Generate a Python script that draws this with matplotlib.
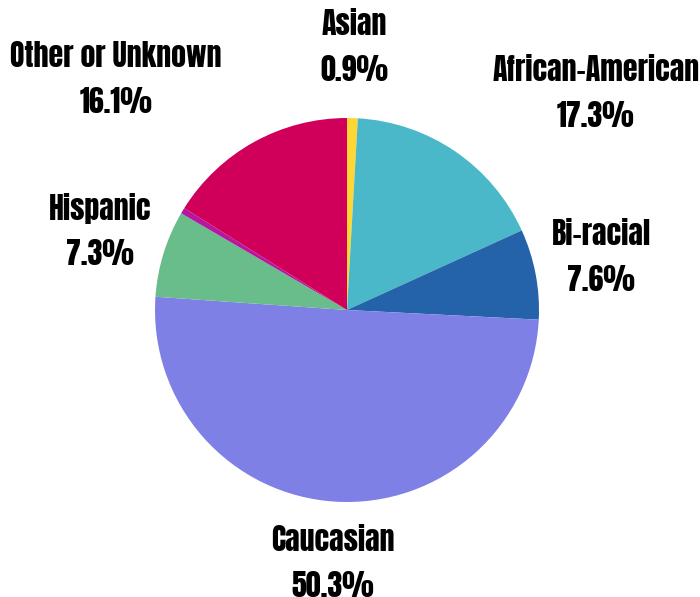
import matplotlib
matplotlib.use("Agg")
import matplotlib.pyplot as plt

categories = ["Asian", "African-American", "Bi-racial", "Caucasian", "Hispanic", "Native or Other", "Other or Unknown"]
values = [0.9, 17.3, 7.6, 50.3, 7.3, 0.5, 16.1]
show_label = [True, True, True, True, True, False, True]
colors = ["#FDD835", "#4BB8C9", "#2462A9", "#7F80E6", "#69BD8A", "#B5179E", "#D0005A"]

# label block centres (data units, radius = 1)
label_pos = [(0.036, 1.37), (1.297, 1.13), (1.323, 0.276), (-0.073, -1.318),
             (-1.286, 0.411), (0, 0), (-1.203, 1.203)]

W, H = 700, 597
cx, cy, R = 347, 310, 192
fig = plt.figure(figsize=(W / 100, H / 100), dpi=100)
ax = fig.add_axes([0, 0, 1, 1])
ax.pie(values, colors=colors, startangle=90, counterclock=False, radius=1,
       wedgeprops=dict(linewidth=0))
ax.set_xlim(-cx / R, (W - cx) / R)
ax.set_ylim((cy - H) / R, cy / R)
ax.set_aspect("equal")
ax.axis("off")

for name, v, show, (x, y) in zip(categories, values, show_label, label_pos):
    if not show:
        continue
    ax.text(x, y, f"{name}\n{v:.1f}%", ha="center", va="center", multialignment="center",
            fontsize=21.5, family=["Anton", "DejaVu Sans"], linespacing=1.6, color="#000000")

fig.savefig("out.png", dpi=100)
